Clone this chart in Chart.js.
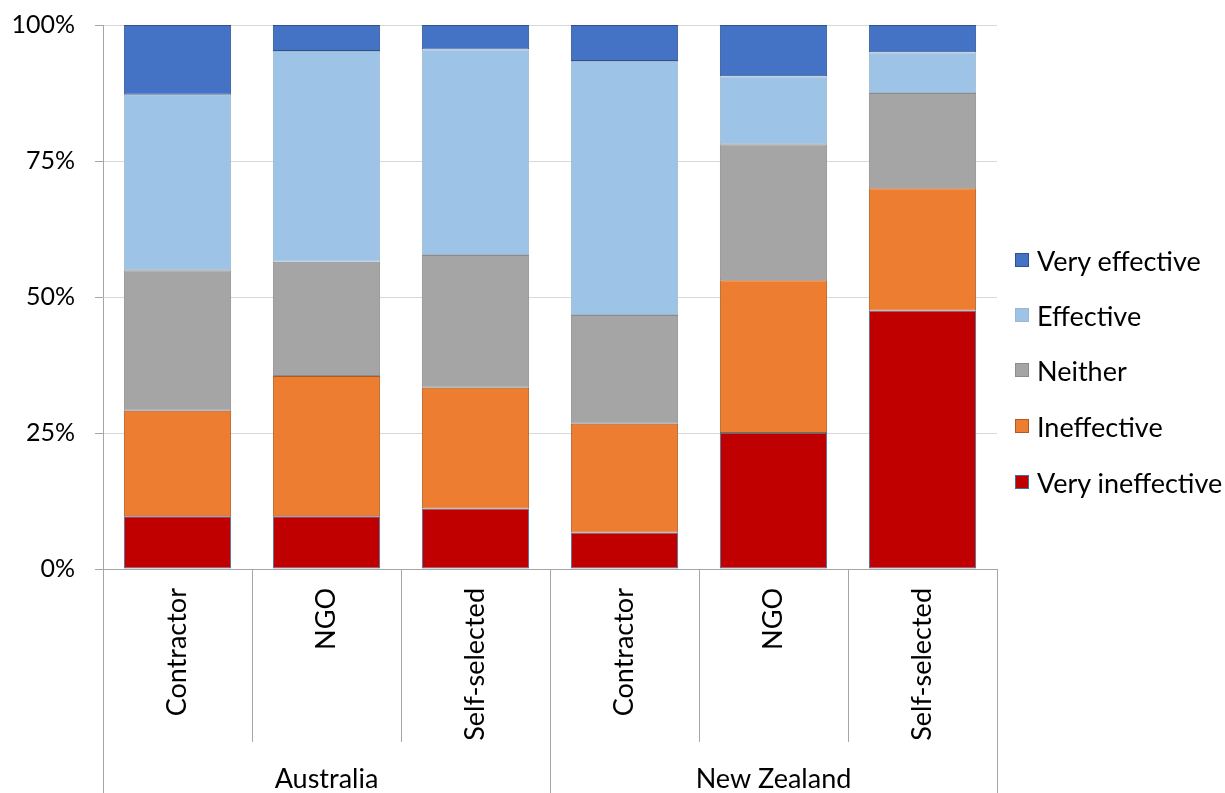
<!DOCTYPE html>
<html>
<head>
<meta charset="utf-8">
<script src="https://cdn.jsdelivr.net/npm/chart.js@4/dist/chart.umd.min.js"></script>
<style>
  html, body { margin: 0; padding: 0; background: #fff; }
  #wrap { position: relative; width: 1225px; height: 793px; }
  #chart { position: absolute; left: 0; top: 0; }
  .leg { position: absolute; left: 1015px; height: 30px; display: flex; align-items: center;
         font-family: Lato, "Liberation Sans", sans-serif; font-size: 27px; color: #000; white-space: nowrap; }
  .leg .box { width: 14px; height: 14px; box-sizing: border-box; border: 1px solid; margin-right: 8px; }
</style>
</head>
<body>
<div id="wrap">
  <canvas id="chart" width="1225" height="793"></canvas>
</div>
<script>
// Respondent ratings (% of each group), stacked bottom to top
const categories = ['Contractor', 'NGO', 'Self-selected', 'Contractor', 'NGO', 'Self-selected'];
const groups = ['Australia', 'New Zealand'];
const groupSize = 3;

const veryIneffective = [9.7, 9.7, 11.1, 6.7, 25.0, 47.5];
const ineffective     = [19.4, 25.8, 22.2, 20.0, 28.1, 22.5];
const neither         = [25.8, 21.0, 24.4, 20.0, 25.0, 17.5];
const effective       = [32.3, 38.7, 37.8, 46.7, 12.5, 7.5];
const veryEffective   = [12.8, 4.8, 4.5, 6.6, 9.4, 5.0];

const yTicks = [0, 25, 50, 75, 100];

const seriesNames  = ['Very ineffective', 'Ineffective', 'Neither', 'Effective', 'Very effective'];
const seriesData   = [veryIneffective, ineffective, neither, effective, veryEffective];
const fillColors   = ['#C00000', '#ED7D31', '#A5A5A5', '#9DC3E6', '#4472C4'];
const edgeColors   = ['#41719C', '#AE5A21', '#8C8C8C', '#9FB6CC', '#2F528F'];

const FONT = 'Lato, "Liberation Sans", sans-serif';
const AXIS = '#A6A6A6';

// Separators and group names under the category labels
const groupAxisPlugin = {
  id: 'groupAxis',
  afterDraw(chart) {
    const ctx = chart.ctx;
    const x = chart.scales.x;
    const area = chart.chartArea;
    const bottom = chart.height;
    const rowBreak = 742;
    const n = categories.length;
    const step = (x.getPixelForValue(1) - x.getPixelForValue(0));
    ctx.save();
    ctx.strokeStyle = AXIS;
    ctx.lineWidth = 1;
    for (let i = 0; i <= n; i++) {
      const px = Math.round(x.getPixelForValue(i) - step / 2) + 0.5;
      const isGroupEdge = (i % groupSize === 0);
      ctx.beginPath();
      ctx.moveTo(px, area.bottom);
      ctx.lineTo(px, isGroupEdge ? bottom : rowBreak);
      ctx.stroke();
    }
    ctx.fillStyle = '#000';
    ctx.font = '27px ' + FONT;
    ctx.textAlign = 'center';
    ctx.textBaseline = 'middle';
    groups.forEach((g, gi) => {
      const first = x.getPixelForValue(gi * groupSize);
      const last = x.getPixelForValue(gi * groupSize + groupSize - 1);
      ctx.fillText(g, (first + last) / 2, 779);
    });
    ctx.restore();
  }
};

new Chart(document.getElementById('chart'), {
  type: 'bar',
  data: {
    labels: categories,
    datasets: seriesNames.map((name, i) => ({
      label: name,
      data: seriesData[i],
      backgroundColor: fillColors[i],
      borderColor: edgeColors[i],
      borderWidth: 1,
      borderSkipped: false,
      barPercentage: 0.72,
      categoryPercentage: 1.0
    }))
  },
  options: {
    responsive: false,
    animation: false,
    layout: { padding: { left: 0, top: 25, right: 228, bottom: 0 } },
    plugins: {
      legend: { display: false },
      tooltip: { enabled: false }
    },
    scales: {
      x: {
        stacked: true,
        grid: { display: false, drawTicks: false },
        border: { display: true, color: AXIS, width: 1 },
        ticks: {
          minRotation: 90, maxRotation: 90, autoSkip: false, padding: 19,
          color: '#000', font: { family: FONT, size: 27 }
        },
        afterFit(scale) {
          scale.height = 224;
          scale.paddingLeft = 0;
          scale.paddingRight = 0;
        }
      },
      y: {
        stacked: true,
        min: 0, max: 100,
        afterBuildTicks(scale) { scale.ticks = yTicks.map(v => ({ value: v })); },
        grid: { color: '#D9D9D9', tickColor: AXIS, tickLength: 8, drawTicks: true },
        border: { display: true, color: AXIS, width: 1 },
        ticks: {
          padding: 20, color: '#000', font: { family: FONT, size: 25 },
          callback: v => v + '%'
        },
        afterFit(scale) {
          scale.width = 103;
          scale.paddingTop = 0;
          scale.paddingBottom = 0;
        }
      }
    }
  },
  plugins: [groupAxisPlugin]
});

// Legend, top to bottom from the last stacked series
const wrap = document.getElementById('wrap');
const legendCenters = [260, 315, 370, 426, 482];
seriesNames.slice().reverse().forEach((name, k) => {
  const i = seriesNames.length - 1 - k;
  const item = document.createElement('div');
  item.className = 'leg';
  item.style.top = (legendCenters[k] - 15) + 'px';
  const box = document.createElement('span');
  box.className = 'box';
  box.style.background = fillColors[i];
  box.style.borderColor = edgeColors[i];
  const txt = document.createElement('span');
  txt.textContent = name;
  item.appendChild(box);
  item.appendChild(txt);
  wrap.appendChild(item);
});
</script>
</body>
</html>
